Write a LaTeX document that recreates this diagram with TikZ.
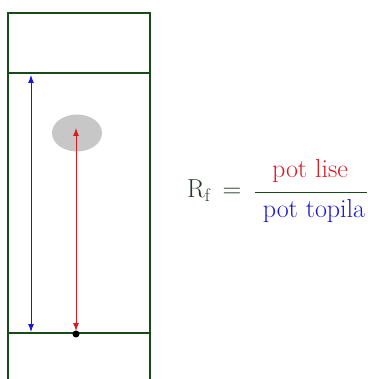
\documentclass[tikz,border=0pt]{standalone}
\usepackage{fontspec}
\usetikzlibrary{arrows.meta,shapes.geometric}
\definecolor{frame}{RGB}{25,75,25}
\definecolor{myblue}{RGB}{25,25,210}
\definecolor{myred}{RGB}{220,25,35}
\definecolor{txtdark}{RGB}{40,55,40}
\tikzset{
  frameline/.style={draw=frame, line width=1.1pt},
  arr/.style={line width=1pt, {Latex[length=8pt,width=6pt]}-{Latex[length=8pt,width=6pt]}},
  txt/.style={inner sep=0pt, font=\fontsize{26}{30}\selectfont}
}
\begin{document}
\begin{tikzpicture}[x=1pt,y=-1pt]
\useasboundingbox (0,0) rectangle (367,379);
% frame
\draw[frameline] (8,381) -- (8,13) -- (150,13) -- (150,381);
\draw[frameline] (8,73) -- (150,73);
\draw[frameline] (8,333) -- (150,333);
% spot
\node[draw=none, fill=black!22, ellipse, minimum width=50pt, minimum height=37pt, inner sep=0pt] (spot) at (77,133) {};
% points
\coordinate (btop) at (31,75);
\coordinate (bbot) at (31,332);
\coordinate (rtop) at (76,128);
\coordinate (rbot) at (76,331);
\draw[arr, myblue] (btop) -- (bbot);
\draw[arr, myred] (rtop) -- (rbot);
\node[fill=black, circle, inner sep=0pt, minimum size=7pt] (dot) at (76,334) {};
% formula
\node[txt, anchor=base west, text=txtdark] (rf) at (187,197) {R$_{\mathrm f}$};
\node[txt, anchor=base, text=txtdark] (eq) at (232,197) {=};
\coordinate (fl) at (255,192);
\coordinate (fr) at (367,192);
\draw[frame, line width=1pt] (fl) -- (fr);
\node[txt, anchor=base, text=myred] (num) at (310,177) {pot lise};
\node[txt, anchor=base, text=myblue] (den) at (314,217) {pot topila};
\end{tikzpicture}
\end{document}
